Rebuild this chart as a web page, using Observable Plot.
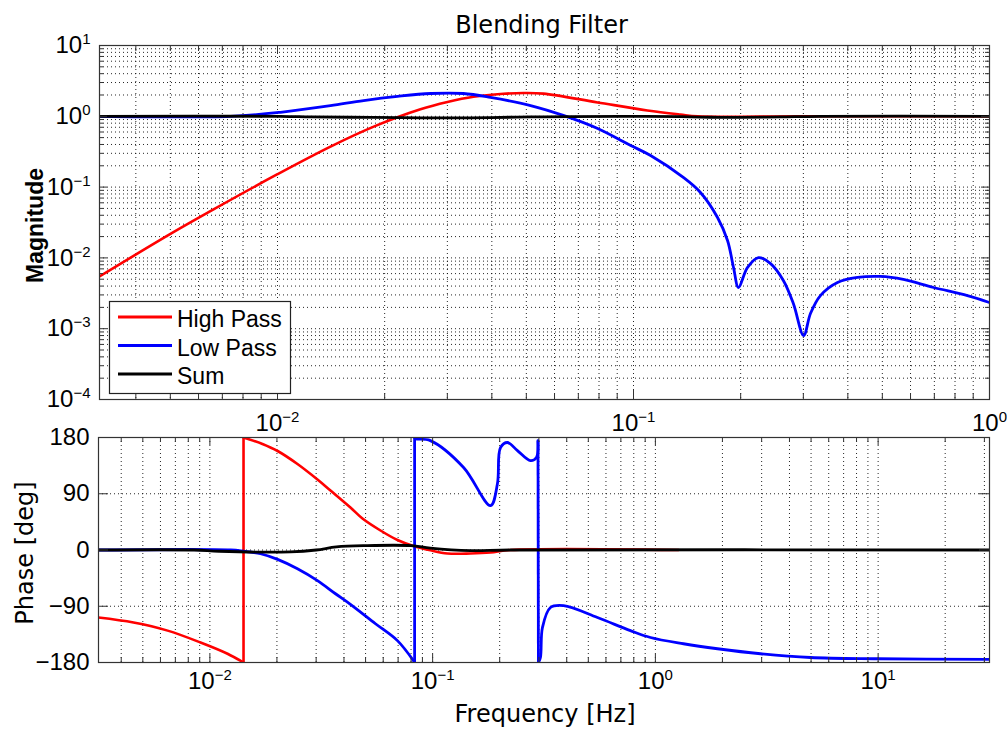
<!DOCTYPE html>
<html>
<head>
<meta charset="utf-8">
<script src="https://cdn.jsdelivr.net/npm/d3@7"></script>
<script src="https://cdn.jsdelivr.net/npm/@observablehq/plot@0.6"></script>
<style>
  html, body { margin: 0; padding: 0; background: #fff; }
  #wrap { position: relative; width: 1007px; height: 729px; overflow: hidden; background: #fff; }
  #wrap > svg, #wrap > div { position: absolute; left: 0; }
  #wrap svg { overflow: visible; }
</style>
</head>
<body>
<div id="wrap"></div>
<script>
// ---------------- DATA ----------------
const titleText = "Blending Filter";
const magLabel = "Magnitude";
const phaseLabel = "Phase [deg]";
const freqLabel = "Frequency [Hz]";
const seriesNames = ["High Pass", "Low Pass", "Sum"];
const seriesColors = ["#ff0000", "#0000ff", "#000000"];

// Magnitude panel
const hpMagFreq = [0.003162, 0.005004, 0.006611, 0.0100, 0.01409, 0.01885, 0.02521, 0.03002, 0.03553, 0.04312, 0.04909, 0.05585, 0.0793, 0.1094, 0.1355, 0.1514, 0.3, 1.0];
const hpMag     = [0.005462, 0.02183, 0.04842, 0.1521, 0.3733, 0.7317, 1.256, 1.592, 1.886, 2.078, 2.133, 2.09, 1.57, 1.21, 1.06, 1.00, 1.0, 1.0];

const lpMagFreq = [0.00316, 0.00738, 0.01019, 0.01409, 0.01746, 0.02173, 0.02692, 0.03327, 0.03963, 0.0514, 0.0635, 0.0793, 0.0982, 0.1117, 0.1380, 0.1542, 0.1722, 0.1837, 0.1910, 0.1972, 0.2089, 0.2244, 0.2427, 0.2636, 0.2812, 0.3006, 0.3141, 0.3350, 0.3741, 0.4256, 0.4943, 0.5728, 0.6966, 0.8670, 1.0];
const lpMag     = [1.0, 1.0, 1.14, 1.42, 1.67, 1.91, 2.10, 2.10, 1.85, 1.42, 1.03, 0.673, 0.387, 0.279, 0.137, 0.084, 0.0372, 0.0176, 0.0073, 0.00382, 0.0073, 0.0101, 0.0083, 0.0048, 0.00227, 0.0008, 0.00164, 0.00294, 0.0045, 0.00529, 0.00547, 0.00496, 0.00382, 0.00294, 0.00234];

const sumMagFreq = [0.00316, 0.01019, 0.01239, 0.01603, 0.02218, 0.02692, 0.03266, 0.03963, 0.0514, 0.0665, 0.0918, 0.1355, 0.1644, 0.2, 0.2588, 0.335, 1.0];
const sumMag     = [1.0, 1.0, 0.98, 0.97, 0.96, 0.95, 0.95, 0.96, 0.98, 0.99, 1.0, 0.99, 0.97, 0.965, 0.98, 1.0, 1.0];

// Phase panel
const hpPhFreq = [0.00316, 0.00454, 0.00646, 0.00908, 0.0120, 0.01416, 0.01416, 0.01476, 0.01722, 0.02014, 0.02473, 0.03041, 0.03479, 0.04276, 0.04842, 0.05834, 0.0695, 0.0820, 0.0977, 0.1167, 0.1479, 0.1820, 0.2239, 1.27];
const hpPh     = [-108, -116, -129, -148, -166, -180, 180, 178, 169.6, 158.4, 137.6, 112.8, 95.2, 68, 50.4, 31.2, 16, 6.4, -0.5, -5.6, -5.6, -4, 0, 0];

const lpPhFreq = [0.00316, 0.0124, 0.01416, 0.01688, 0.02014, 0.02473, 0.03041, 0.03664, 0.04276, 0.05539, 0.0695, 0.0820, 0.0830, 0.0830, 0.0838, 0.0977, 0.1377, 0.1820, 0.1954, 0.2018, 0.2168, 0.2404, 0.2748, 0.2924, 0.2972, 0.2985, 0.3048, 0.3112, 0.3381, 0.3873, 0.5495, 0.7727, 0.9506, 1.337, 1.901, 2.965, 4.966, 9.93, 31.62];
const lpPh     = [0, 0, -2, -6, -15, -30, -49, -70, -87, -118, -145, -177, -180, 180, 178, 175, 132, 71, 106, 164, 172, 159, 143, 148, 175, -180, -172, -124, -92, -89, -108, -129, -140, -150, -158, -166, -172, -174, -175];

const sumPhFreq = [0.00316, 0.0085, 0.0110, 0.0230, 0.0300, 0.0370, 0.0500, 0.0800, 0.0977, 0.1479, 0.2239, 31.62];
const sumPh     = [0, 0, -2, -3, 0, 5, 7, 7, 3, -1, 0, 0];

// Axis ticks
const magTicks = [1e-4, 1e-3, 1e-2, 1e-1, 1, 10];
const topFreqTicks = [0.01, 0.1, 1];
const botFreqTicks = [0.01, 0.1, 1, 10];
const phaseTicks = [-180, -90, 0, 90, 180];
const phaseGrid = [-90, 0, 90];
const topFreqDomain = [10 ** -2.5, 1];
const botFreqDomain = [10 ** -2.5, 10 ** 1.5];
const magDomain = [1e-4, 10];
const phaseDomain = [-180, 180];

// ---------------- HELPERS ----------------
function decadeTicks(lo, hi, dom) {
  const out = [];
  for (let e = lo; e <= hi; e++) for (let j = 1; j <= 9; j++) {
    const v = +(j * 10 ** e).toPrecision(6);
    if (v >= dom[0] * 0.9999 && v <= dom[1] * 1.0001) out.push(v);
  }
  return out;
}
const zip = (fs, vs) => fs.map((f, i) => ({f, v: vs[i]}));
// split a wrapped phase series into continuous segments + the wrap jumps
function splitWrap(fs, vs) {
  const rows = [], jumps = [];
  let seg = 0;
  fs.forEach((f, i) => {
    if (i > 0 && Math.abs(vs[i] - vs[i - 1]) > 250) {
      jumps.push({f1: fs[i - 1], v1: vs[i - 1], f2: f, v2: vs[i]});
      seg++;
    }
    rows.push({f, v: vs[i], seg});
  });
  return {rows, jumps};
}
const powFmt = d => {
  const e = Math.round(Math.log10(d));
  return "10^" + (e < 0 ? "\u2212" + (-e) : String(e));
};
const numFmt = d => (d < 0 ? "\u2212" + (-d) : String(d));
function supify(svg) {
  d3.select(svg).selectAll("text").each(function () {
    const t = this.textContent;
    const m = /^10\^(.+)$/.exec(t);
    if (m) {
      this.textContent = "10";
      d3.select(this).append("tspan").attr("dy", "-0.6em").attr("font-size", "15px").text(m[1]);
    }
  });
}

const gridStyle = {stroke: "#000", strokeOpacity: 0.85, strokeDasharray: "1,3", strokeWidth: 1};
const frameColor = "#333";
const tickFont = "'Liberation Sans', Arial, sans-serif";
const labelFont = "'DejaVu Sans', sans-serif";
const curve = "catmull-rom";

// ---------------- TOP PANEL ----------------
const T = {w: 1007, h: 425, ml: 99, mr: 18, mt: 45, mb: 26};
const TW = T.w - T.ml - T.mr, TH = T.h - T.mt - T.mb;
const topXGrid = decadeTicks(-3, 0, topFreqDomain);
const topYGrid = decadeTicks(-4, 1, magDomain);
const topXMinor = topXGrid.filter(v => !topFreqTicks.includes(v));
const topYMinor = topYGrid.filter(v => !magTicks.includes(v));

const hpM = zip(hpMagFreq, hpMag), lpM = zip(lpMagFreq, lpMag), sumM = zip(sumMagFreq, sumMag);

const topPlot = Plot.plot({
  width: T.w, height: T.h,
  marginLeft: T.ml, marginRight: T.mr, marginTop: T.mt, marginBottom: T.mb,
  x: {type: "log", domain: topFreqDomain, label: null},
  y: {type: "log", domain: magDomain, label: null},
  style: {fontFamily: tickFont, fontSize: "24px", color: "#000", background: "transparent", overflow: "visible"},
  marks: [
    Plot.ruleX(topXGrid, {x: d => d, ...gridStyle}),
    Plot.ruleY(topYGrid, {y: d => d, ...gridStyle}),
    Plot.line(hpM, {x: "f", y: "v", stroke: seriesColors[0], strokeWidth: 2.6, curve, clip: true}),
    Plot.line(lpM, {x: "f", y: "v", stroke: seriesColors[1], strokeWidth: 2.8, curve, clip: true}),
    Plot.line(sumM, {x: "f", y: "v", stroke: seriesColors[2], strokeWidth: 2.8, curve, clip: true}),
    Plot.frame({stroke: frameColor, strokeWidth: 1.2}),
    // inward ticks
    Plot.tickX(topXMinor, {x: d => d, insetTop: TH - 6, stroke: frameColor}),
    Plot.tickX(topXMinor, {x: d => d, insetBottom: TH - 6, stroke: frameColor}),
    Plot.tickX(topFreqTicks, {x: d => d, insetTop: TH - 9, stroke: frameColor}),
    Plot.tickX(topFreqTicks, {x: d => d, insetBottom: TH - 9, stroke: frameColor}),
    Plot.tickY(topYMinor, {y: d => d, insetRight: TW - 4, stroke: frameColor}),
    Plot.tickY(topYMinor, {y: d => d, insetLeft: TW - 4, stroke: frameColor}),
    Plot.tickY(magTicks, {y: d => d, insetRight: TW - 8, stroke: frameColor}),
    Plot.tickY(magTicks, {y: d => d, insetLeft: TW - 8, stroke: frameColor}),
    Plot.axisX(topFreqTicks, {anchor: "bottom", tickSize: 0, tickPadding: 14, tickFormat: powFmt, label: null, fontSize: 24}),
    Plot.axisY(magTicks, {anchor: "left", tickSize: 0, tickPadding: 9, tickFormat: powFmt, label: null, fontSize: 24}),
    Plot.text([titleText], {frameAnchor: "top", dy: -13, dx: -3, textAnchor: "middle", lineAnchor: "bottom", fontSize: 24, fontFamily: labelFont, fill: "#000"}),
    Plot.text([magLabel], {frameAnchor: "left", rotate: -90, dx: -57, dy: 3, textAnchor: "middle", lineAnchor: "bottom", fontSize: 23, fontWeight: "bold", fontFamily: tickFont, fill: "#000"})
  ]
});
supify(topPlot);
topPlot.style.top = "0px";

// ---------------- BOTTOM PANEL ----------------
const B = {w: 1007, h: 304, ml: 98, mr: 18, mt: 12, mb: 67};
const BW = B.w - B.ml - B.mr, BH = B.h - B.mt - B.mb;
const botXGrid = decadeTicks(-3, 1, botFreqDomain);
const botXMinor = botXGrid.filter(v => !botFreqTicks.includes(v));

const hpP = splitWrap(hpPhFreq, hpPh), lpP = splitWrap(lpPhFreq, lpPh), sumP = zip(sumPhFreq, sumPh);

const botPlot = Plot.plot({
  width: B.w, height: B.h,
  marginLeft: B.ml, marginRight: B.mr, marginTop: B.mt, marginBottom: B.mb,
  x: {type: "log", domain: botFreqDomain, label: null},
  y: {domain: phaseDomain, label: null},
  style: {fontFamily: tickFont, fontSize: "24px", color: "#000", background: "transparent", overflow: "visible"},
  marks: [
    Plot.ruleX(botXGrid, {x: d => d, ...gridStyle}),
    Plot.ruleY(phaseGrid, {y: d => d, ...gridStyle}),
    Plot.line(hpP.rows, {x: "f", y: "v", z: "seg", stroke: seriesColors[0], strokeWidth: 2.6, curve, clip: true}),
    Plot.link(hpP.jumps, {x1: "f1", y1: "v1", x2: "f2", y2: "v2", stroke: seriesColors[0], strokeWidth: 2.6, clip: true}),
    Plot.line(lpP.rows, {x: "f", y: "v", z: "seg", stroke: seriesColors[1], strokeWidth: 2.8, curve, clip: true}),
    Plot.link(lpP.jumps, {x1: "f1", y1: "v1", x2: "f2", y2: "v2", stroke: seriesColors[1], strokeWidth: 2.8, clip: true}),
    Plot.line(sumP, {x: "f", y: "v", stroke: seriesColors[2], strokeWidth: 2.8, curve, clip: true}),
    Plot.frame({stroke: frameColor, strokeWidth: 1.2}),
    Plot.tickX(botXMinor, {x: d => d, insetTop: BH - 5, stroke: frameColor}),
    Plot.tickX(botXMinor, {x: d => d, insetBottom: BH - 5, stroke: frameColor}),
    Plot.tickX(botFreqTicks, {x: d => d, insetTop: BH - 8, stroke: frameColor}),
    Plot.tickX(botFreqTicks, {x: d => d, insetBottom: BH - 8, stroke: frameColor}),
    Plot.tickY(phaseGrid, {y: d => d, insetRight: BW - 10, stroke: frameColor}),
    Plot.tickY(phaseGrid, {y: d => d, insetLeft: BW - 10, stroke: frameColor}),
    Plot.axisX(botFreqTicks, {anchor: "bottom", tickSize: 0, tickPadding: 9, tickFormat: powFmt, label: null, fontSize: 24}),
    Plot.axisY(phaseTicks, {anchor: "left", tickSize: 0, tickPadding: 9, tickFormat: numFmt, label: null, fontSize: 24}),
    Plot.text([freqLabel], {frameAnchor: "bottom", dy: 59, dx: 1, textAnchor: "middle", lineAnchor: "bottom", fontSize: 24, fontFamily: labelFont, fill: "#000"}),
    Plot.text([phaseLabel], {frameAnchor: "left", rotate: -90, dx: -66, dy: 3, textAnchor: "middle", lineAnchor: "bottom", fontSize: 24, fontFamily: labelFont, fill: "#000"})
  ]
});
supify(botPlot);
botPlot.style.top = T.h + "px";

const wrap = document.getElementById("wrap");
wrap.appendChild(topPlot);
wrap.appendChild(botPlot);

// ---------------- LEGEND (overlay) ----------------
const legend = d3.create("div").style("left", "109px").style("top", "301px");
const lsvg = legend.append("svg").attr("width", 183).attr("height", 94);
lsvg.append("rect").attr("x", 0.5).attr("y", 0.5).attr("width", 181).attr("height", 92)
  .attr("fill", "#fff").attr("stroke", "#222").attr("stroke-width", 1.2);
seriesNames.forEach((name, i) => {
  const yl = 16 + i * 28.5;
  lsvg.append("line").attr("x1", 9).attr("x2", 63).attr("y1", yl).attr("y2", yl)
    .attr("stroke", seriesColors[i]).attr("stroke-width", 3);
  lsvg.append("text").attr("x", 68).attr("y", yl + 10).text(name)
    .attr("font-family", tickFont).attr("font-size", 23).attr("fill", "#000");
});
wrap.appendChild(legend.node());
</script>
</body>
</html>
